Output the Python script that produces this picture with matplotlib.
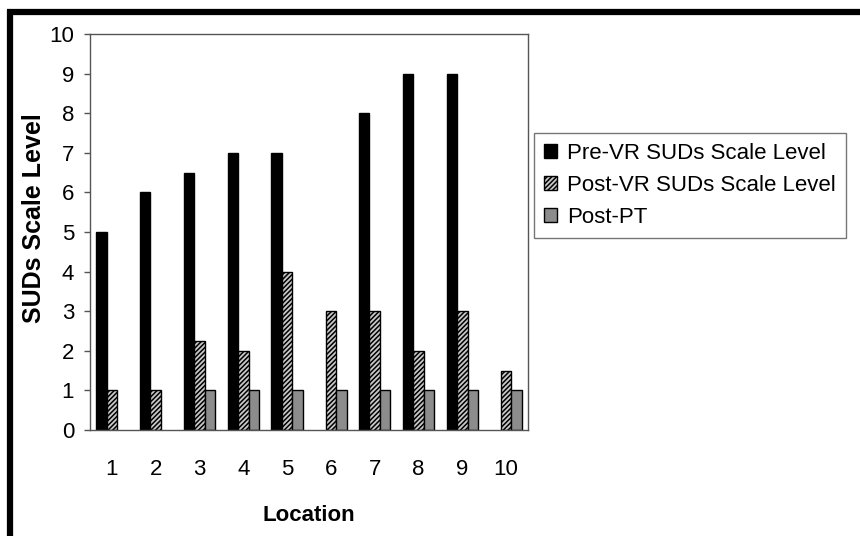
import matplotlib
matplotlib.use("Agg")
import matplotlib.pyplot as plt
import numpy as np
from matplotlib.lines import Line2D

plt.rcParams['font.family'] = ['Liberation Sans', 'DejaVu Sans']
plt.rcParams['hatch.linewidth'] = 1.1

locations = [1, 2, 3, 4, 5, 6, 7, 8, 9, 10]
pre_vr = [5, 6, 6.5, 7, 7, 0, 8, 9, 9, 0]
post_vr = [1, 1, 2.25, 2, 4, 3, 3, 2, 3, 1.5]
post_pt = [0, 0, 1, 1, 1, 1, 1, 1, 1, 1]
labels = ['Pre-VR SUDs Scale Level', 'Post-VR SUDs Scale Level', 'Post-PT']

def nz(v):
    # zero means no bar in the original
    v = np.array(v, dtype=float)
    v[v == 0] = np.nan
    return v

fig = plt.figure(figsize=(8.6, 5.36), dpi=100)
ax = fig.add_axes([90/860, 1-430/536, (528-90)/860, (430-34)/536])

x = np.array(locations)
w = 0.24
ax.bar(x - w, nz(pre_vr), w, color='black', edgecolor='black', linewidth=1, label=labels[0])
ax.bar(x, nz(post_vr), w, color='#c8c8c8', edgecolor='black', linewidth=1, hatch='///////', label=labels[1])
ax.bar(x + w, nz(post_pt), w, color='#8c8c8c', edgecolor='black', linewidth=1, label=labels[2])

ax.set_xlim(0.5, 10.5)
ax.set_ylim(0, 10)
ax.set_yticks(range(0, 11))
ax.set_xticks(locations)
for s in ax.spines.values():
    s.set_color('#555555')
    s.set_linewidth(1)
ax.tick_params(axis='y', length=4.5, width=1, color='#555555', pad=7, labelsize=16)
ax.tick_params(axis='x', length=0, pad=21, labelsize=16)

ax.set_ylabel('SUDs Scale Level', fontsize=18, fontweight='bold')
ax.yaxis.set_label_coords(-0.1, 0.535)
ax.set_xlabel('Location', fontsize=16, fontweight='bold', labelpad=18)

leg = fig.legend(loc='upper left', bbox_to_anchor=(534/860, 1-133/536),
                 bbox_transform=fig.transFigure, borderaxespad=0, fontsize=16,
                 frameon=True, fancybox=False, handlelength=0.6, handleheight=0.6,
                 handletextpad=0.45, labelspacing=0.5, borderpad=0.45)
leg.get_frame().set_edgecolor('#555555')
leg.get_frame().set_linewidth(1)

# thick frame around the figure (top and left)
fig.add_artist(Line2D([7/860, 1], [1-12/536, 1-12/536], color='black', linewidth=4.5,
                      transform=fig.transFigure, solid_capstyle='butt'))
fig.add_artist(Line2D([10/860, 10/860], [1-10/536, 0], color='black', linewidth=4.5,
                      transform=fig.transFigure, solid_capstyle='butt'))

fig.savefig('out.png', dpi=100)
